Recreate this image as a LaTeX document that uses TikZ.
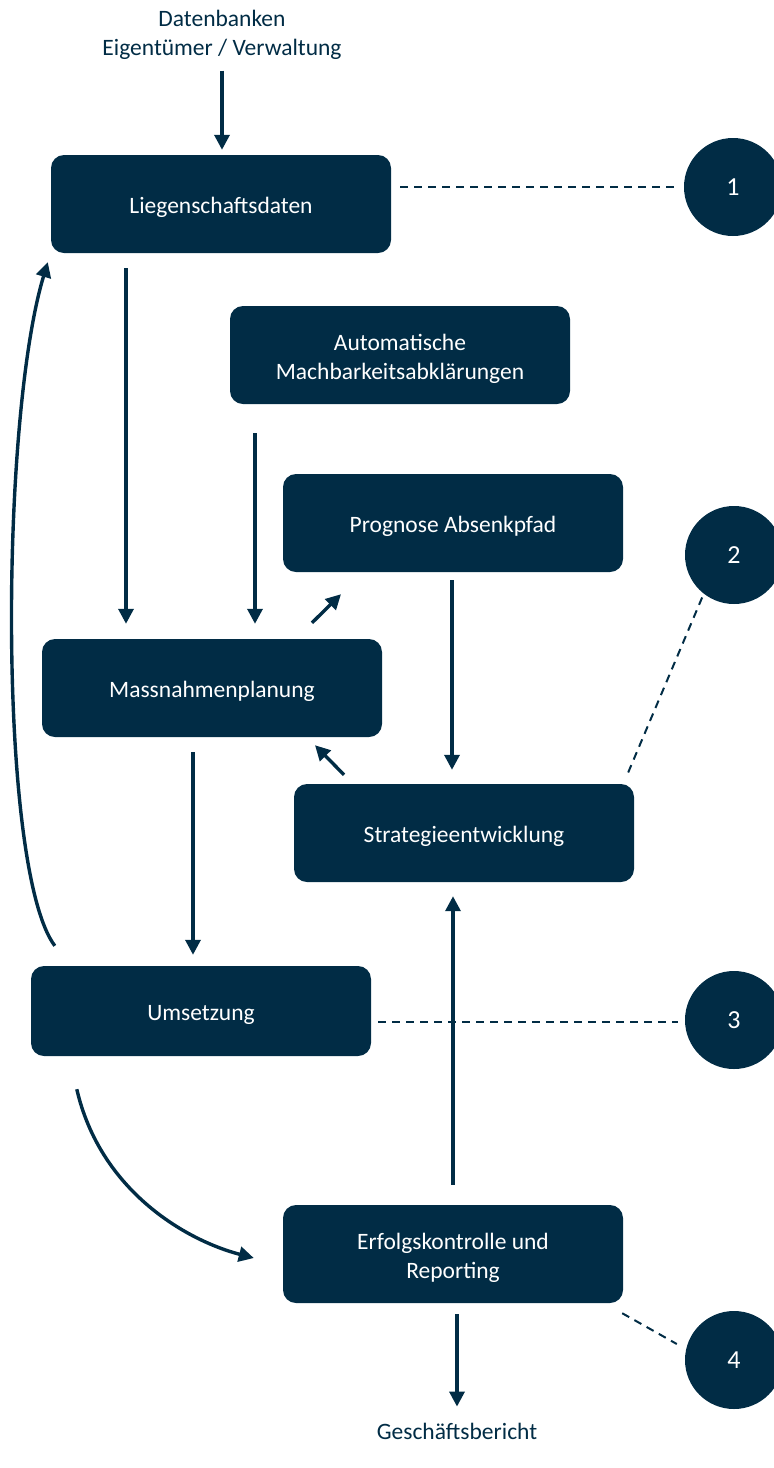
\documentclass[tikz,border=0pt]{standalone}
\usepackage{fontspec}
\setmainfont{Carlito}
\usetikzlibrary{arrows.meta}
\definecolor{navy}{RGB}{1,44,69}
\tikzset{
  box/.style={fill=navy, draw=none, rounded corners=13pt, minimum width=340pt, minimum height=98pt,
    text=white, align=center, font=\fontsize{23.5}{28.5}\selectfont, inner sep=0pt,
    execute at begin node={\rule{0pt}{24pt}}},
  box2/.style={fill=navy, draw=none, rounded corners=13pt, minimum width=340pt, minimum height=98pt,
    inner sep=0pt},
  boxtext/.style={text=white, align=center, font=\fontsize{23.5}{28.5}\selectfont, inner sep=0pt, yshift=-4pt},
  num/.style={circle, fill=navy, draw=none, minimum size=98pt, inner sep=0pt, text=white,
    font=\fontsize{26}{28}\selectfont},
  lbl/.style={text=navy, align=center, font=\fontsize{23.5}{28.5}\selectfont, inner sep=0pt},
  arr/.style={draw=navy, line width=3.4pt, -{Triangle[width=15pt,length=15pt]}},
  dsh/.style={draw=navy, line width=2pt, dash pattern=on 8pt off 6pt},
}
\begin{document}
\begin{tikzpicture}[x=1pt, y=-1pt]
\useasboundingbox (0,0) rectangle (774,1468);
% labels
\node[lbl] (top) at (222,35) {Datenbanken\\Eigentümer / Verwaltung};
\node[lbl] (bericht) at (457,1431) {Geschäftsbericht};
% boxes
\node[box] (liegen) at (221,204) {Liegenschaftsdaten};
\node[box2, label={[boxtext]center:{Automatische\\Machbarkeitsabklärungen}}] (auto) at (400,355) {};
\node[box] (prog) at (453,523) {Prognose Absenkpfad};
\node[box] (massn) at (212,688) {Massnahmenplanung};
\node[box] (strat) at (464,833) {Strategieentwicklung};
\node[box, minimum height=90pt] (ums) at (201,1011) {Umsetzung};
\node[box2, label={[boxtext]center:{Erfolgskontrolle und\\Reporting}}] (erf) at (453,1254) {};
% circles
\node[num] (c1) at (733,187) {1};
\node[num] (c2) at (734,555) {2};
\node[num] (c3) at (734,1020) {3};
\node[num] (c4) at (734,1360) {4};
% arrows
\draw[arr, shorten <=11pt, shorten >=5pt] ([xshift=0pt]top.south) -- ([xshift=1pt]liegen.north);
\draw[arr, shorten <=15pt, shorten >=15pt] ([xshift=-95pt]liegen.south) -- ([xshift=-86pt]massn.north);
\draw[arr, shorten <=29pt, shorten >=15pt] ([xshift=-145pt]auto.south) -- ([xshift=43pt]massn.north);
\draw[arr] ([xshift=100pt,yshift=16pt]massn.north) -- ([xshift=-112pt,yshift=-22pt]prog.south);
\draw[arr, shorten <=8pt, shorten >=14pt] ([xshift=-1pt]prog.south) -- ([xshift=-12pt]strat.north);
\draw[arr] ([xshift=-120pt,yshift=9pt]strat.north) -- ([xshift=103pt,yshift=-8pt]massn.south);
\draw[arr, shorten <=15pt, shorten >=11pt] ([xshift=-19pt]massn.south) -- ([xshift=-8pt]ums.north);
\draw[arr] ([xshift=24pt,yshift=20pt]ums.north west) .. controls (-2,870) and (0,420) .. ([xshift=-3pt,yshift=-9pt]liegen.south west);
\draw[arr, shorten <=20pt, shorten >=14pt] (erf.north) -- ([xshift=-11pt]strat.south);
\draw[arr] ([xshift=46pt,yshift=-33pt]ums.south west) .. controls (100,1190) and (185,1240) .. ([xshift=-29pt,yshift=-4pt]erf.west);
\draw[arr, shorten <=11pt, shorten >=16pt] ([xshift=4pt]erf.south) -- (bericht.north);
% dashed
\draw[dsh, shorten >=5pt] ([xshift=9pt,yshift=17pt]liegen.east) -- (c1.west);
\draw[dsh, shorten <=4pt] (c2.232) -- ([xshift=-7pt,yshift=9pt]strat.north east);
\draw[dsh, shorten >=7pt] ([xshift=7pt,yshift=-11pt]ums.east) -- ([yshift=-2pt]c3.west);
\draw[dsh] ([xshift=-1pt,yshift=-10pt]erf.south east) -- ([xshift=-8pt,yshift=16pt]c4.west);
\end{tikzpicture}
\end{document}
